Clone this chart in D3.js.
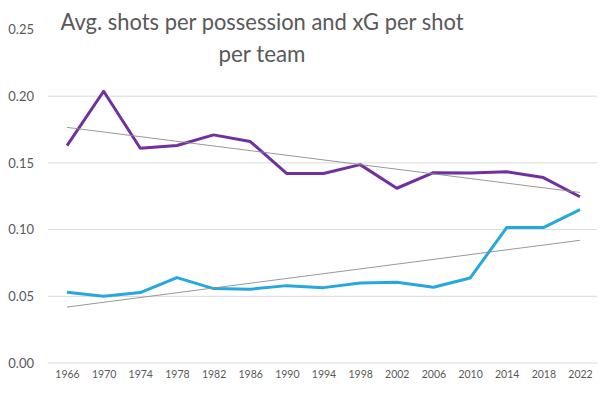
<!DOCTYPE html>
<html>
<head>
<meta charset="utf-8">
<script src="https://cdn.jsdelivr.net/npm/d3@7"></script>
<style>
  body { margin: 0; background: #fff; }
  svg { display: block; font-family: Lato, "Open Sans", sans-serif; }
</style>
</head>
<body>
<svg id="chart" width="602" height="394"></svg>
<script>
// data
const years = ["1966", "1970", "1974", "1978", "1982", "1986", "1990", "1994",
               "1998", "2002", "2006", "2010", "2014", "2018", "2022"];
const shotsPerPoss = [0.163, 0.2037, 0.161, 0.163, 0.171, 0.166, 0.142, 0.142,
                      0.1487, 0.131, 0.1427, 0.1425, 0.1434, 0.139, 0.1246];
const xgPerShot = [0.053, 0.050, 0.0528, 0.064, 0.0558, 0.0553, 0.058, 0.0565,
                   0.060, 0.0605, 0.0568, 0.0637, 0.1015, 0.1015, 0.115];
const yTicks = [0, 0.05, 0.10, 0.15, 0.20, 0.25];
const titleLines = ["Avg. shots per possession and xG per shot", "per team"];

const svg = d3.select("#chart");
const textColor = "#595959";

const x = d3.scalePoint()
  .domain(years)
  .range([67, 580]);

const y = d3.scaleLinear()
  .domain([0, 0.25])
  .range([363, 29.5]);

// gridlines (top one hidden behind title in the original)
svg.append("g")
  .selectAll("line")
  .data(yTicks.filter(d => d < 0.25))
  .join("line")
  .attr("x1", 48)
  .attr("x2", 597)
  .attr("y1", d => y(d))
  .attr("y2", d => y(d))
  .attr("stroke", "#d9d9d9")
  .attr("stroke-width", 1);

// y axis labels
const gy = svg.append("g")
  .attr("transform", "translate(34,0)")
  .call(d3.axisLeft(y).tickValues(yTicks).tickFormat(d3.format(".2f")).tickSize(0).tickPadding(0));
gy.select(".domain").remove();
gy.selectAll("text")
  .attr("fill", textColor)
  .attr("font-size", 13)
  .attr("font-family", "Lato, sans-serif");

// x axis labels
const gx = svg.append("g")
  .attr("transform", "translate(0,371)")
  .call(d3.axisBottom(x).tickSize(0).tickPadding(0));
gx.select(".domain").remove();
gx.selectAll("text")
  .attr("fill", textColor)
  .attr("font-size", 10.5)
  .attr("font-family", "Lato, sans-serif");

// linear trend (least squares, like Excel trendline)
function trend(vals) {
  const n = vals.length;
  const xs = d3.range(n);
  const mx = d3.mean(xs), my = d3.mean(vals);
  const slope = d3.sum(xs, i => (i - mx) * (vals[i] - my)) / d3.sum(xs, i => (i - mx) ** 2);
  const b = my - slope * mx;
  return [[years[0], b], [years[n - 1], b + slope * (n - 1)]];
}

const line = d3.line()
  .x(d => x(d[0]))
  .y(d => y(d[1]));

const series = [
  { values: shotsPerPoss, color: "#7030a0" },
  { values: xgPerShot, color: "#26a8de" }
];

series.forEach(s => {
  svg.append("path")
    .datum(years.map((yr, i) => [yr, s.values[i]]))
    .attr("fill", "none")
    .attr("stroke", s.color)
    .attr("stroke-width", 3)
    .attr("stroke-linejoin", "round")
    .attr("d", line);
});

series.forEach(s => {
  svg.append("path")
    .datum(trend(s.values))
    .attr("fill", "none")
    .attr("stroke", "#8c8c8c")
    .attr("stroke-width", 0.9)
    .attr("d", line);
});

// title
const titleWidths = [403, 87];
svg.append("g")
  .selectAll("text")
  .data(titleLines)
  .join("text")
  .attr("x", 262)
  .attr("y", (d, i) => 30 + i * 32)
  .attr("text-anchor", "middle")
  .attr("fill", textColor)
  .attr("font-size", 23)
  .attr("font-family", "Lato, sans-serif")
  .attr("textLength", (d, i) => titleWidths[i])
  .attr("lengthAdjust", "spacingAndGlyphs")
  .text(d => d);
</script>
</body>
</html>
